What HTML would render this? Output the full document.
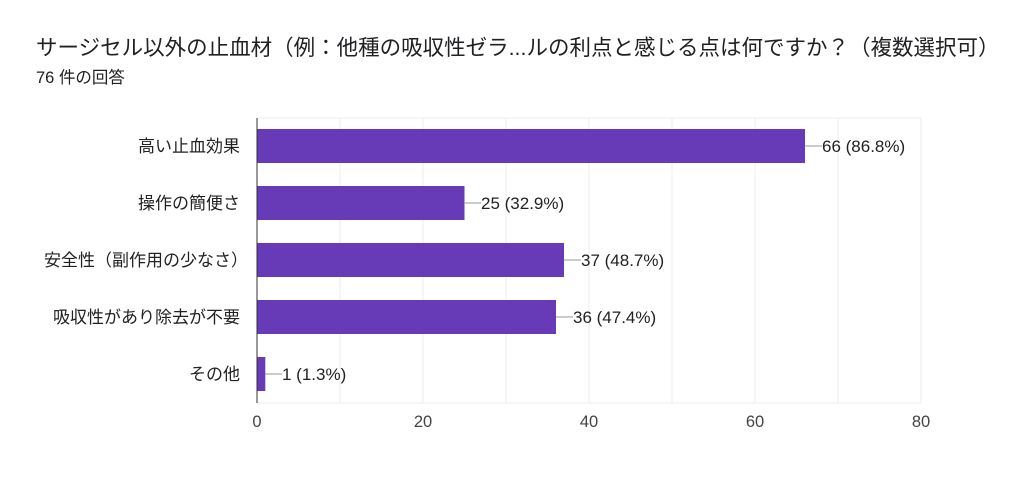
<!DOCTYPE html>
<html><head><meta charset="utf-8"><style>
body{margin:0;background:#fff;width:1024px;height:487px;overflow:hidden;font-family:"Liberation Sans","Noto Sans CJK JP",sans-serif;}
</style></head><body>
<svg width="1024" height="487" xmlns="http://www.w3.org/2000/svg" style="position:absolute;left:0;top:0">
<text x="36" y="55" font-size="21.5" fill="#202124" font-family="Liberation Sans, Noto Sans CJK JP, sans-serif">サージセル以外の止血材（例：他種の吸収性ゼラ...ルの利点と感じる点は何ですか？（複数選択可）</text>
<text x="36" y="83" font-size="16.5" fill="#202124" font-family="Liberation Sans, Noto Sans CJK JP, sans-serif">76 件の回答</text>
<g stroke="#ececec" stroke-width="1">
<line x1="257" y1="118" x2="921" y2="118"/>
<line x1="257" y1="403" x2="921" y2="403"/>
<line x1="340" y1="118" x2="340" y2="403"/><line x1="423" y1="118" x2="423" y2="403"/>
<line x1="506" y1="118" x2="506" y2="403"/><line x1="589" y1="118" x2="589" y2="403"/>
<line x1="672" y1="118" x2="672" y2="403"/><line x1="755" y1="118" x2="755" y2="403"/>
<line x1="838" y1="118" x2="838" y2="403"/><line x1="921" y1="118" x2="921" y2="403"/>
</g>
<g fill="#673ab7">
<rect x="257" y="129" width="548" height="34"/>
<rect x="257" y="186" width="207.5" height="34"/>
<rect x="257" y="243" width="307" height="34"/>
<rect x="257" y="300" width="299" height="34"/>
<rect x="257" y="357" width="8.3" height="34"/>
</g>
<line x1="257" y1="118" x2="257" y2="403" stroke="#333" stroke-width="1"/>
<g stroke="#999" stroke-width="1">
<line x1="805" y1="146" x2="822" y2="146"/>
<line x1="464" y1="203" x2="481" y2="203"/>
<line x1="564" y1="260" x2="581" y2="260"/>
<line x1="556" y1="317" x2="573" y2="317"/>
<line x1="265" y1="374" x2="282" y2="374"/>
</g>
<g font-size="17" fill="#222" font-family="Liberation Sans, sans-serif">
<text x="822" y="152">66 (86.8%)</text>
<text x="481" y="209">25 (32.9%)</text>
<text x="581" y="266">37 (48.7%)</text>
<text x="573" y="323">36 (47.4%)</text>
<text x="282" y="380">1 (1.3%)</text>
</g>
<g font-size="17" fill="#222" text-anchor="end" font-family="Liberation Sans, Noto Sans CJK JP, sans-serif">
<text x="240" y="152">高い止血効果</text>
<text x="240" y="209">操作の簡便さ</text>
<text x="248" y="266">安全性（副作用の少なさ）</text>
<text x="240" y="323">吸収性があり除去が不要</text>
<text x="240" y="380">その他</text>
</g>
<g font-size="16.5" fill="#444" text-anchor="middle" font-family="Liberation Sans, sans-serif">
<text x="257" y="427">0</text><text x="423" y="427">20</text><text x="589" y="427">40</text><text x="755" y="427">60</text><text x="921" y="427">80</text>
</g>
</svg>
</body></html>
